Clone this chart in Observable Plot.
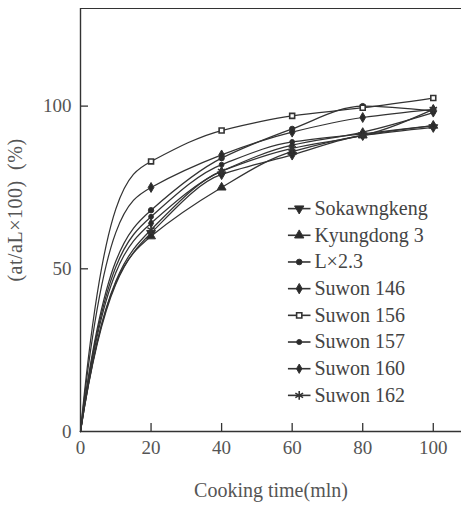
<!DOCTYPE html>
<html>
<head>
<meta charset="utf-8">
<script src="https://cdn.jsdelivr.net/npm/d3@7"></script>
<script src="https://cdn.jsdelivr.net/npm/@observablehq/plot@0.6"></script>
<style>
  html, body { margin: 0; padding: 0; background: #fff; }
  #chart svg { display: block; }
</style>
</head>
<body>
<div id="chart"></div>
<script>
// Cooking time (min) at which each cultivar was sampled
const times = [0, 20, 40, 60, 80, 100];

// Cultivar names, in legend order
const cultivars = ["Sokawngkeng", "Kyungdong 3", "L\u00d72.3", "Suwon 146",
                   "Suwon 156", "Suwon 157", "Suwon 160", "Suwon 162"];

// (at/aL x 100) % for each cultivar at each time
const sokawngkeng = [0, 61, 79, 85, 91, 93.5];
const kyungdong3  = [0, 60, 75, 86, 91, 94];
const lx23        = [0, 68, 84, 93, 100, 98.5];
const suwon146    = [0, 75, 85, 92, 96.5, 99];
const suwon156    = [0, 83, 92.5, 97, 99.5, 102.5];
const suwon157    = [0, 66, 82, 89, 91.5, 94];
const suwon160    = [0, 64, 80, 88, 92, 98];
const suwon162    = [0, 62, 80, 87, 91, 99];

const seriesValues = [sokawngkeng, kyungdong3, lx23, suwon146,
                      suwon156, suwon157, suwon160, suwon162];

// Axis ticks
const xTicks = [0, 20, 40, 60, 80, 100];
const yTicks = [0, 50, 100];

// Marker style per cultivar
const markers = [
  {symbol: "triangle", rotate: 180, r: 3.3, fill: "#2a2a2a"},
  {symbol: "triangle", rotate: 0,   r: 3.3, fill: "#2a2a2a"},
  {symbol: "circle",   rotate: 0,   r: 2.7, fill: "#2a2a2a"},
  {symbol: "diamond",  rotate: 0,   r: 3.0, fill: "#2a2a2a"},
  {symbol: "square",   rotate: 0,   r: 2.8, fill: "#fff"},
  {symbol: "circle",   rotate: 0,   r: 2.4, fill: "#2a2a2a"},
  {symbol: "diamond",  rotate: 0,   r: 2.7, fill: "#2a2a2a"},
  {symbol: "asterisk", rotate: 0,   r: 4.0, fill: "none"}
];

const rows = cultivars.flatMap((name, i) =>
  times.map((t, j) => ({name, i, t, v: seriesValues[i][j]})));

// Cubic curve whose first segment leaves the origin steeply while staying
// concave (a saturation-type uptake curve), with smooth tangents at the points.
function SteepStart(context) { this._context = context; }
SteepStart.prototype = {
  areaStart() { this._line = 0; },
  areaEnd() { this._line = NaN; },
  lineStart() { this._xs = []; this._ys = []; },
  point(x, y) { this._xs.push(+x); this._ys.push(+y); },
  lineEnd() {
    const xs = this._xs, ys = this._ys, n = xs.length, ctx = this._context;
    if (n) {
      const d = [], h = [];
      for (let i = 0; i < n - 1; i++) {
        h.push(xs[i + 1] - xs[i]);
        d.push((ys[i + 1] - ys[i]) / h[i]);
      }
      const m = new Array(n).fill(0);
      for (let i = 1; i < n - 1; i++) {
        if (d[i - 1] * d[i] <= 0) { m[i] = 0; continue; }
        const p = (d[i - 1] * h[i] + d[i] * h[i - 1]) / (h[i - 1] + h[i]);
        m[i] = Math.sign(d[i]) * Math.min(Math.abs(p), 1.2 * Math.min(Math.abs(d[i - 1]), Math.abs(d[i])));
      }
      if (n > 1) {
        const beta = d[0] ? m[1] / d[0] : 0;
        const alpha = Math.max(1, Math.min(2.95, 3 - 2 * beta));
        m[0] = alpha * d[0];
        m[n - 1] = n > 2 ? (3 * d[n - 2] - m[n - 2]) / 2 : d[0];
      }
      ctx.moveTo(xs[0], ys[0]);
      for (let i = 0; i < n - 1; i++) {
        const dx = h[i] / 3;
        ctx.bezierCurveTo(xs[i] + dx, ys[i] + dx * m[i],
                          xs[i + 1] - dx, ys[i + 1] - dx * m[i + 1],
                          xs[i + 1], ys[i + 1]);
      }
    }
    if (this._line || (this._line !== 0 && n === 1)) ctx.closePath();
    this._line = 1 - this._line;
  }
};
const steepStart = (context) => new SteepStart(context);

const W = 464, H = 506;
const mL = 80, mR = 3, mT = 8, mB = 75;
const frameW = W - mL - mR, frameH = H - mT - mB;
const ink = "#333";
const font = "'Liberation Serif', 'DejaVu Serif', serif";

// Legend placement inside the plot area (data units)
const legX = 62, legHalf = 3.2, legText = 66.3, legTop = 68.5, legStep = 8.2;
const legend = cultivars.map((name, i) => ({name, i, y: legTop - i * legStep}));

const marks = [
  // frame: left axis, top border, bottom axis
  Plot.ruleX([0], {stroke: ink, strokeWidth: 1.4}),
  Plot.ruleY([0], {stroke: ink, strokeWidth: 1.4}),
  Plot.ruleY([130], {stroke: ink, strokeWidth: 1.2}),
  // inward tick marks
  Plot.tickY(yTicks.filter(d => d > 0), {y: d => d, stroke: ink, strokeWidth: 1.3, insetRight: frameW - 8}),
  Plot.tickX(xTicks.filter(d => d > 0), {x: d => d, stroke: ink, strokeWidth: 1.3, insetTop: frameH - 8}),
  Plot.axisX(xTicks, {tickSize: 0, tickPadding: 9, fontSize: 19, fill: "#555", label: null}),
  Plot.axisY(yTicks, {tickSize: 0, tickPadding: 9, fontSize: 19, fill: "#555", label: null}),
  // curves
  Plot.line(rows, {x: "t", y: "v", z: "name", curve: steepStart, stroke: ink, strokeWidth: 1.25})
];

// markers, one layer per cultivar
cultivars.forEach((name, i) => {
  const m = markers[i];
  const pts = rows.filter(d => d.i === i && d.t > 0);
  marks.push(Plot.dot(pts, {
    x: "t", y: "v", symbol: m.symbol, r: m.r, rotate: m.rotate,
    fill: m.fill, stroke: ink, strokeWidth: m.symbol === "asterisk" ? 1.5 : (m.fill === "#fff" ? 1.6 : 1)
  }));
});

// legend
marks.push(
  Plot.link(legend, {x1: legX - legHalf, x2: legX + legHalf, y1: "y", y2: "y", stroke: ink, strokeWidth: 1.6})
);
legend.forEach((d, i) => {
  const m = markers[i];
  marks.push(Plot.dot([d], {
    x: legX, y: "y", symbol: m.symbol, r: m.r * 1.05, rotate: m.rotate,
    fill: m.fill, stroke: ink, strokeWidth: m.symbol === "asterisk" ? 1.6 : (m.fill === "#fff" ? 1.6 : 1)
  }));
});
marks.push(
  Plot.text(legend, {x: legText, y: "y", text: "name", textAnchor: "start",
    fontSize: 20, fill: "#444", fontFamily: font})
);

const chart = Plot.plot({
  width: W,
  height: H,
  marginLeft: mL,
  marginRight: mR,
  marginTop: mT,
  marginBottom: mB,
  style: {fontFamily: font, background: "#fff", color: "#555", overflow: "visible"},
  x: {domain: [0, 108], label: null},
  y: {domain: [0, 130], label: null},
  marks
});

// axis titles
const svg = d3.select(chart);
svg.append("text")
  .attr("x", 271).attr("y", 497)
  .attr("text-anchor", "middle")
  .attr("font-size", 20).attr("fill", "#555")
  .attr("font-family", font)
  .text("Cooking time(mln)");
svg.append("text")
  .attr("transform", "translate(22,210) rotate(-90)")
  .attr("text-anchor", "middle")
  .attr("font-size", 20).attr("fill", "#555")
  .attr("font-family", font)
  .attr("letter-spacing", 0.5)
  .text("(at/aL\u00d7100)\u2002(%)");

document.getElementById("chart").appendChild(chart);
</script>
</body>
</html>
